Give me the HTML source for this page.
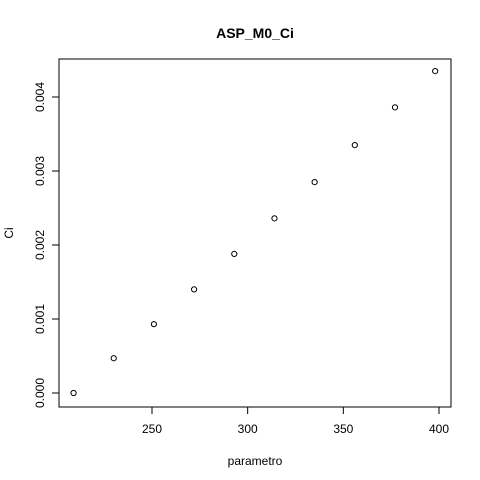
<!DOCTYPE html>
<html><head><meta charset="utf-8"><style>body{margin:0;background:#fff}svg{display:block}text{font-family:"Liberation Sans",Arial,sans-serif}</style></head>
<body>
<svg id="chart" width="480" height="480" viewBox="0 0 480 480">
<rect width="480" height="480" fill="#fff"/>
<text x="255" y="38" text-anchor="middle" font-size="14" font-weight="bold">ASP_M0_Ci</text>
<rect x="59" y="59" width="392" height="348" fill="none" stroke="#000"/>
<text x="255" y="465" text-anchor="middle" font-size="12">parametro</text>
<text transform="translate(13,233) rotate(-90)" text-anchor="middle" font-size="12">Ci</text>
<g id="axes"></g><g id="points"></g>
</svg>
<script>
const xVals=[209,230,251,272,293,314,335,356,377,398];
const yVals=[0,0.00047,0.00093,0.0014,0.00188,0.00236,0.00285,0.00335,0.00386,0.00435];
const xTicks=[250,300,350,400];
const yTicks=[0,0.001,0.002,0.003,0.004];
const yTickLabels=["0.000","0.001","0.002","0.003","0.004"];
const NS="http://www.w3.org/2000/svg";
function sx(v){return 152+(v-250)*(287/150);}
function sy(v){return 393-v*74000;}
const ax=document.getElementById('axes'),pt=document.getElementById('points');
function mk(t,a,p){const e=document.createElementNS(NS,t);for(const k in a)e.setAttribute(k,a[k]);p.appendChild(e);return e;}
mk('line',{x1:sx(xTicks[0]),x2:sx(xTicks[xTicks.length-1]),y1:407,y2:407,stroke:'#000'},ax);
xTicks.forEach(v=>{
 const l=mk('line',{x1:sx(v),x2:sx(v),y1:407,y2:414,stroke:'#000'},ax);
 
 
 const t=mk('text',{x:sx(v),y:433,'text-anchor':'middle','font-size':12},ax);t.textContent=v;
 
 
});
mk('line',{x1:59,x2:59,y1:sy(yTicks[0]),y2:sy(yTicks[yTicks.length-1]),stroke:'#000'},ax);
yTicks.forEach((v,i)=>{
 const l=mk('line',{x1:52,x2:59,y1:sy(v),y2:sy(v),stroke:'#000'},ax);
 
 
 const t=mk('text',{transform:`translate(44,${sy(v)}) rotate(-90)`,'text-anchor':'middle','font-size':12},ax);t.textContent=yTickLabels[i];
 
 
});
xVals.forEach((v,i)=>{
 const c=mk('circle',{cx:sx(v),cy:sy(yVals[i]),r:2.6,fill:'none',stroke:'#000','stroke-width':1},pt);
 
 
});
</script>
</body></html>
